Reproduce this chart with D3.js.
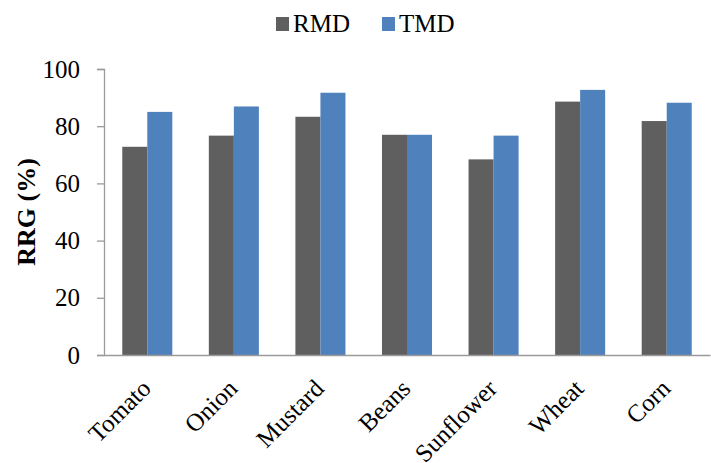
<!DOCTYPE html>
<html>
<head>
<meta charset="utf-8">
<script src="https://cdn.jsdelivr.net/npm/d3@7"></script>
<style>
  html, body { margin: 0; padding: 0; background: #fff; }
  svg { display: block; font-family: "Liberation Serif", "Times New Roman", serif; }
</style>
</head>
<body>
<svg id="chart" width="711" height="463"></svg>
<script>
// Relative root growth (%) per crop under the two treatments
const crops = ["Tomato", "Onion", "Mustard", "Beans", "Sunflower", "Wheat", "Corn"];
const seriesNames = ["RMD", "TMD"];
const rmdValues = [72.8, 76.7, 83.3, 77.0, 68.4, 88.6, 81.8];
const tmdValues = [85.0, 86.9, 91.7, 77.0, 76.7, 92.7, 88.2];
const yTicks = [0, 20, 40, 60, 80, 100];
const seriesColors = ["#5f5f5f", "#4f81bd"];

const rows = crops.map((c, i) => ({ crop: c, values: [rmdValues[i], tmdValues[i]] }));

const svg = d3.select("#chart");
const plot = { left: 104, right: 710, top: 69, bottom: 355 };

const x = d3.scaleBand().domain(crops).range([plot.left, plot.right]).padding(0);
const xSub = d3.scaleBand().domain(seriesNames).range([0, x.bandwidth()])
  .paddingInner(0).paddingOuter(0.73);
const y = d3.scaleLinear().domain([0, 100]).range([plot.bottom, plot.top]);
const color = d3.scaleOrdinal().domain(seriesNames).range(seriesColors);

// Bars
const groups = svg.append("g").selectAll("g").data(rows).join("g")
  .attr("transform", d => `translate(${x(d.crop)},0)`);
groups.selectAll("rect")
  .data(d => d.values.map((v, k) => ({ name: seriesNames[k], value: v })))
  .join("rect")
  .attr("x", d => xSub(d.name))
  .attr("width", xSub.bandwidth())
  .attr("y", d => y(d.value))
  .attr("height", d => y(0) - y(d.value))
  .attr("fill", d => color(d.name));

// Y axis
const yAxis = svg.append("g")
  .attr("transform", `translate(${plot.left},0)`)
  .call(d3.axisLeft(y).tickValues(yTicks).tickSize(7).tickPadding(17).tickFormat(d3.format("d")));
yAxis.select(".domain").attr("stroke", "#9a9a9a").attr("stroke-width", 1.3);
yAxis.selectAll(".tick line").attr("stroke", "#9a9a9a").attr("stroke-width", 1.3);
yAxis.selectAll(".tick text")
  .attr("font-family", "Liberation Serif, Times New Roman, serif")
  .attr("font-size", 25).attr("fill", "#000");

// X axis
const xAxis = svg.append("g")
  .attr("transform", `translate(0,${plot.bottom})`)
  .call(d3.axisBottom(x).tickSize(0).tickPadding(0));
xAxis.select(".domain").attr("stroke", "#9a9a9a").attr("stroke-width", 1.3);
xAxis.selectAll(".tick text")
  .attr("font-family", "Liberation Serif, Times New Roman, serif")
  .attr("font-size", 25).attr("fill", "#000")
  .attr("text-anchor", "end")
  .attr("dy", 0)
  .attr("transform", "translate(5,35) rotate(-45)");

// Y axis title
svg.append("text")
  .attr("transform", "translate(35,212) rotate(-90)")
  .attr("text-anchor", "middle")
  .attr("font-size", 26).attr("font-weight", "bold")
  .text("RRG (%)");

// Legend
const legendItems = [{ name: "RMD", x: 276 }, { name: "TMD", x: 382 }];
const legend = svg.append("g").selectAll("g").data(legendItems).join("g")
  .attr("transform", d => `translate(${d.x},0)`);
legend.append("rect").attr("x", 0).attr("y", 17).attr("width", 13).attr("height", 14)
  .attr("fill", d => color(d.name));
legend.append("text").attr("x", 17).attr("y", 32)
  .attr("font-size", 25).text(d => d.name);
</script>
</body>
</html>
